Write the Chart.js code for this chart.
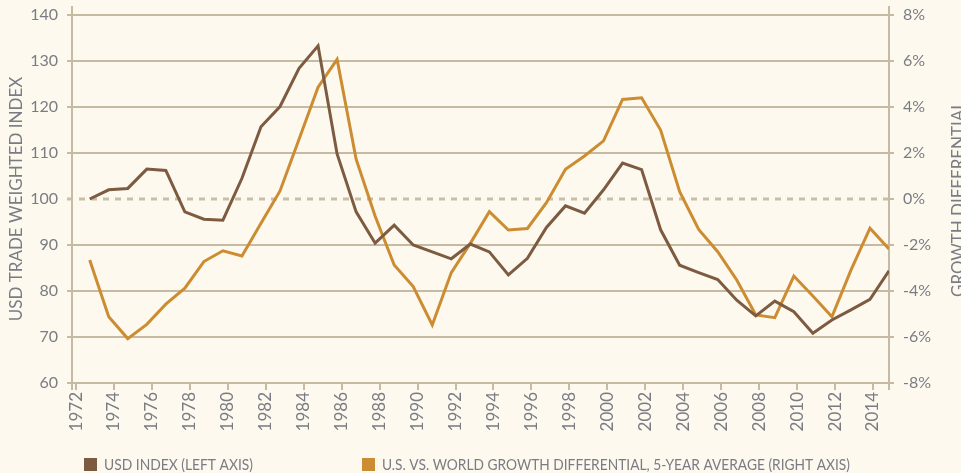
<!DOCTYPE html>
<html>
<head>
<meta charset="utf-8">
<script src="https://cdn.jsdelivr.net/npm/chart.js@4/dist/chart.umd.min.js"></script>
<style>
html,body{margin:0;padding:0;background:#fdf9ef;}
canvas{display:block;}
</style>
</head>
<body>
<canvas id="c" width="961" height="473"></canvas>
<script>
// ---- data ----
const years = [1973,1974,1975,1976,1977,1978,1979,1980,1981,1982,1983,1984,1985,1986,1987,1988,1989,1990,1991,1992,1993,1994,1995,1996,1997,1998,1999,2000,2001,2002,2003,2004,2005,2006,2007,2008,2009,2010,2011,2012,2013,2014,2015];
const usdIndex = [100.0,102.0,102.3,106.5,106.2,97.2,95.6,95.4,104.5,115.7,120.1,128.4,133.3,109.8,97.2,90.4,94.3,90.0,88.5,87.0,90.2,88.5,83.5,87.1,93.8,98.5,96.9,102.0,107.8,106.4,93.3,85.6,84.0,82.5,78.0,74.6,77.8,75.5,70.8,73.7,75.9,78.2,84.4];
const growthDiff = [-2.65,-5.12,-6.07,-5.45,-4.57,-3.88,-2.72,-2.25,-2.48,-1.05,0.35,2.6,4.86,6.07,1.73,-0.75,-2.87,-3.81,-5.48,-3.2,-1.93,-0.55,-1.35,-1.28,-0.16,1.29,1.87,2.53,4.33,4.4,3.0,0.32,-1.32,-2.29,-3.52,-5.04,-5.16,-3.35,-4.22,-5.12,-3.09,-1.27,-2.17];
const xTickYears = [1972,1974,1976,1978,1980,1982,1984,1986,1988,1990,1992,1994,1996,1998,2000,2002,2004,2006,2008,2010,2012,2014];
const leftTicks = [60,70,80,90,100,110,120,130,140];
const rightTicks = [-8,-6,-4,-2,0,2,4,6,8];
const seriesNames = ["USD INDEX (LEFT AXIS)", "U.S. VS. WORLD GROWTH DIFFERENTIAL, 5-YEAR AVERAGE (RIGHT AXIS)"];
const leftTitle = "USD TRADE WEIGHTED INDEX";
const rightTitle = "GROWTH DIFFERENTIAL";
const refValue = 100;

// ---- style ----
const BG = "#fdf9ef";
const TAN = "#c6baa2";
const DASH = "#c8bfa9";
const TXT = "#7b7c83";
const BROWN = "#7d5b41";
const ORANGE = "#cc8c31";
const FONT = "Lato, 'Open Sans', sans-serif";

const extras = {
  id: "extras",
  beforeDraw(chart) {
    const ctx = chart.ctx;
    ctx.save();
    ctx.fillStyle = BG;
    ctx.fillRect(0, 0, chart.width, chart.height);
    ctx.restore();
  },
  beforeDatasetsDraw(chart) {
    const ctx = chart.ctx;
    const a = chart.chartArea;
    const y = chart.scales.y.getPixelForValue(refValue);
    ctx.save();
    ctx.strokeStyle = DASH;
    ctx.lineWidth = 3;
    ctx.setLineDash([6, 6]);
    ctx.beginPath();
    ctx.moveTo(a.left - 5, y);
    ctx.lineTo(a.right, y);
    ctx.stroke();
    ctx.setLineDash([]);
    ctx.strokeStyle = TAN;
    ctx.lineWidth = 2;
    ctx.beginPath();
    ctx.moveTo(a.left, a.top - 9); ctx.lineTo(a.left, a.bottom + 7);
    ctx.moveTo(a.right, a.top - 9); ctx.lineTo(a.right, a.bottom + 7);
    ctx.stroke();
    ctx.restore();
  },
  afterDraw(chart) {
    const ctx = chart.ctx;
    const a = chart.chartArea;
    const cy = (a.top + a.bottom) / 2;
    ctx.save();
    ctx.fillStyle = TXT;
    ctx.font = "17px " + FONT;
    ctx.textAlign = "center";
    ctx.textBaseline = "middle";
    ctx.translate(16.5, cy);
    ctx.rotate(-Math.PI / 2);
    ctx.fillText(leftTitle, 0, 0, 255);
    ctx.restore();
    ctx.save();
    ctx.fillStyle = TXT;
    ctx.font = "17px " + FONT;
    ctx.textAlign = "center";
    ctx.textBaseline = "middle";
    ctx.translate(959, cy);
    ctx.rotate(-Math.PI / 2);
    ctx.fillText(rightTitle, 0, 0, 196);
    ctx.restore();
    // legend
    const items = chart.data.datasets.map(d => ({text: d.label, color: d.borderColor}));
    const boxX = [84, 362];
    const maxW = [149, 468];
    ctx.save();
    ctx.font = "15px " + FONT;
    ctx.textBaseline = "middle";
    ctx.textAlign = "left";
    items.forEach((it, i) => {
      ctx.fillStyle = it.color;
      ctx.fillRect(boxX[i], 458, 13, 13);
      ctx.fillStyle = TXT;
      ctx.fillText(it.text, boxX[i] + 20, 465, maxW[i]);
    });
    ctx.restore();
  }
};

const fitY = s => { s.width = 72; s.paddingTop = 0; s.paddingBottom = 0; };

new Chart(document.getElementById("c"), {
  type: "line",
  data: {
    datasets: [
      {
        label: seriesNames[0],
        data: years.map((yr, i) => ({x: yr, y: usdIndex[i]})),
        borderColor: BROWN,
        backgroundColor: BROWN,
        borderWidth: 3,
        pointRadius: 0,
        tension: 0,
        xAxisID: "x",
        yAxisID: "y"
      },
      {
        label: seriesNames[1],
        data: years.map((yr, i) => ({x: yr, y: growthDiff[i]})),
        borderColor: ORANGE,
        backgroundColor: ORANGE,
        borderWidth: 3,
        pointRadius: 0,
        tension: 0,
        xAxisID: "x",
        yAxisID: "y2"
      }
    ]
  },
  options: {
    responsive: false,
    animation: false,
    devicePixelRatio: 1,
    layout: {padding: {top: 15, left: 0, right: 0, bottom: 0}},
    plugins: {legend: {display: false}, tooltip: {enabled: false}},
    scales: {
      x: {
        type: "linear",
        display: false,
        min: 1972.07,
        max: 2015
      },
      xt: {
        type: "linear",
        position: "bottom",
        min: 1971.787,
        max: 2014.843,
        afterBuildTicks: s => { s.ticks = xTickYears.map(v => ({value: v})); },
        afterFit: s => { s.height = 90; s.paddingLeft = 0; s.paddingRight = 0; },
        ticks: {
          autoSkip: false,
          minRotation: 90,
          maxRotation: 90,
          padding: 2,
          color: TXT,
          font: {family: FONT, size: 17},
          callback: v => String(v)
        },
        grid: {drawOnChartArea: false, drawTicks: true, tickLength: 7, color: TAN, lineWidth: 2},
        border: {display: false}
      },
      y: {
        type: "linear",
        position: "left",
        min: 60,
        max: 140,
        afterBuildTicks: s => { s.ticks = leftTicks.map(v => ({value: v})); },
        afterFit: fitY,
        ticks: {color: TXT, font: {family: FONT, size: 16}, padding: 9},
        grid: {
          color: c => (c.tick && c.tick.value === refValue) ? "rgba(0,0,0,0)" : TAN,
          lineWidth: 2,
          tickLength: 5
        },
        border: {display: true, color: TAN, width: 2}
      },
      y2: {
        type: "linear",
        position: "right",
        min: -8,
        max: 8,
        afterBuildTicks: s => { s.ticks = rightTicks.map(v => ({value: v})); },
        afterFit: fitY,
        ticks: {color: TXT, font: {family: FONT, size: 16}, padding: 9, callback: v => v + "%"},
        grid: {drawOnChartArea: false, color: TAN, lineWidth: 2, tickLength: 5},
        border: {display: true, color: TAN, width: 2}
      }
    }
  },
  plugins: [extras]
});
</script>
</body>
</html>
